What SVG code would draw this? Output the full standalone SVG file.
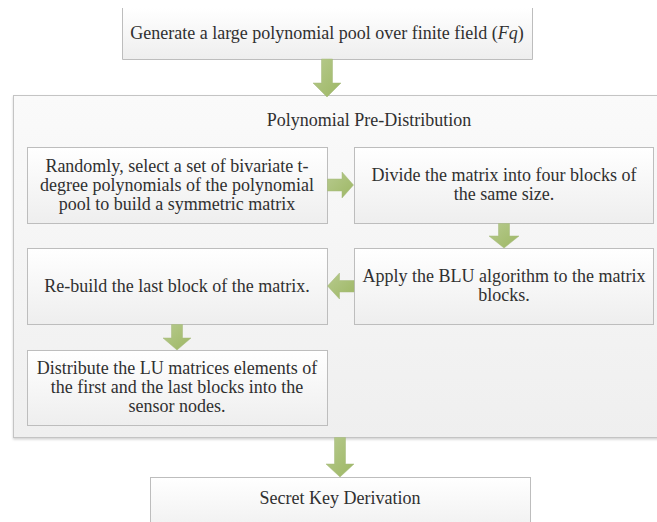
<svg xmlns="http://www.w3.org/2000/svg" width="657" height="522" viewBox="0 0 657 522" font-family="'Liberation Serif', 'Times New Roman', serif">
  <defs>
    <linearGradient id="boxFill" x1="0" y1="0" x2="0" y2="1">
      <stop offset="0" stop-color="#ffffff"/>
      <stop offset="1" stop-color="#eeeeee"/>
    </linearGradient>
    <linearGradient id="panelFill" x1="0" y1="0" x2="0" y2="1">
      <stop offset="0" stop-color="#fafafa"/>
      <stop offset="1" stop-color="#efefef"/>
    </linearGradient>
    <linearGradient id="arrowFill" x1="0" y1="0" x2="1" y2="1">
      <stop offset="0" stop-color="#b7ca8e"/>
      <stop offset="1" stop-color="#9db764"/>
    </linearGradient>
    <filter id="shadow" x="-5%" y="-5%" width="110%" height="115%">
      <feDropShadow dx="0" dy="1.5" stdDeviation="1" flood-color="#000000" flood-opacity="0.18"/>
    </filter>
  </defs>
  <style>
    .box { fill: url(#boxFill); stroke: #bdbdbd; stroke-width: 1; }
    .panel { fill: url(#panelFill); stroke: #c4c4c4; stroke-width: 1; }
    .arrow { fill: url(#arrowFill); stroke: #a4b97a; stroke-width: 0.5; }
    text { font-family: "Liberation Serif", "Times New Roman", serif; font-size: 18px; fill: #303030; text-anchor: middle; }
  </style>

  <rect width="657" height="522" fill="#ffffff"/>

  <!-- top step: the box runs off the upper edge -->
  <g id="generate-pool">
    <rect x="122.5" y="8" width="410" height="51" fill="url(#boxFill)"/>
    <path d="M122.5,8 V59.5 H532.5 V8" fill="none" stroke="#bdbdbd"/>
    <text x="327" y="39">Generate a large polynomial pool over finite field (<tspan font-style="italic">Fq</tspan>)</text>
  </g>

  <!-- container for the pre-distribution phase -->
  <g id="pre-distribution">
    <rect class="panel" x="13.5" y="95.5" width="660" height="342" filter="url(#shadow)"/>
    <text x="369" y="126">Polynomial Pre-Distribution</text>
  </g>

  <g id="select-polynomials">
    <rect class="box" x="27.5" y="147.5" width="300" height="76"/>
    <text x="177" y="172">Randomly, select a set of bivariate t-</text>
    <text x="177" y="191">degree polynomials of the polynomial</text>
    <text x="177" y="210">pool to build a symmetric matrix</text>
  </g>

  <g id="divide-matrix">
    <rect class="box" x="354.5" y="147.5" width="299" height="76"/>
    <text x="504" y="181">Divide the matrix into four blocks of</text>
    <text x="504" y="200">the same size.</text>
  </g>

  <g id="apply-blu">
    <rect class="box" x="354.5" y="248.5" width="299" height="76"/>
    <text x="504" y="282">Apply the BLU algorithm to the matrix</text>
    <text x="504" y="301">blocks.</text>
  </g>

  <g id="rebuild-block">
    <rect class="box" x="27.5" y="248.5" width="300" height="76"/>
    <text x="177" y="292">Re-build the last block of the matrix.</text>
  </g>

  <g id="distribute-lu">
    <rect class="box" x="27.5" y="350.5" width="300" height="75"/>
    <text x="177" y="374">Distribute the LU matrices elements of</text>
    <text x="177" y="393">the first and the last blocks into the</text>
    <text x="177" y="412">sensor nodes.</text>
  </g>

  <g id="secret-key">
    <rect class="box" x="150.5" y="477.5" width="380" height="60"/>
    <text x="340" y="504">Secret Key Derivation</text>
  </g>

  <!-- block arrows between steps -->
  <g id="connectors">
    <polygon class="arrow" points="321.5,59 332.5,59 332.5,83 341,83 327,97 313,83 321.5,83"/>
    <polygon class="arrow" points="327.5,179 342,179 342,172 353.5,185 342,198 342,191 327.5,191"/>
    <polygon class="arrow" points="498.5,223.5 509.5,223.5 509.5,236 519,236 504,248 489,236 498.5,236"/>
    <polygon class="arrow" points="354,280.5 339.5,280.5 339.5,273 327.5,286 339.5,299 339.5,292 354,292"/>
    <polygon class="arrow" points="171.5,324.5 182.5,324.5 182.5,338 191,338 177,350 163,338 171.5,338"/>
    <polygon class="arrow" points="334.5,437.5 345.5,437.5 345.5,464 354,464 340,477 326,464 334.5,464"/>
  </g>
</svg>
